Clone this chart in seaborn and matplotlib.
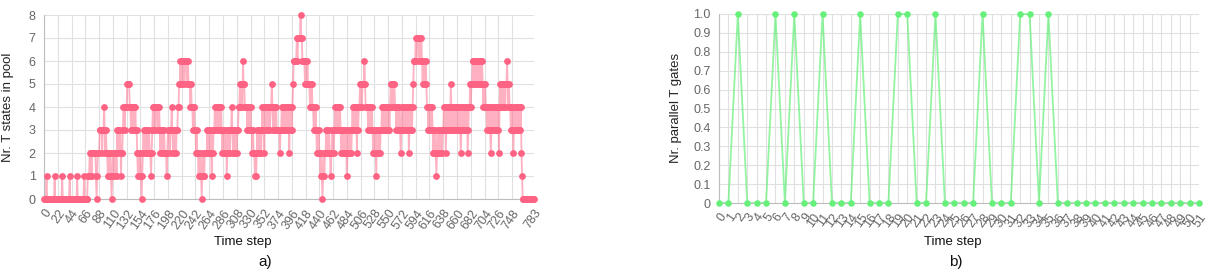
import numpy as np
import pandas as pd
import matplotlib
matplotlib.use("Agg")
import matplotlib.pyplot as plt
import seaborn as sns

# === DATA ===
# a) Nr. T states in pool per time step in blocks of 10 steps
pool_blocks = [
    "0000100000", "0000000100", "0000000001", "0000000000", "0100000000",
    "0001000000", "0000100000", "1112121222", "2221012223", "3332334323",
    "2212122101", "2122121323", "3231223443", "4445555443", "4343434332",
    "1221210123", "2323223232", "2123443434", "4433432323", "3232221233",
    "3233432323", "3233445565", "6566566656", "6555454434", "4332322121",
    "2101211222", "2323232213", "2334344343", "4434323232", "2312323233",
    "4323232323", "3445455465", "5444434343", "4332322121", "2323323234",
    "3424343434", "4344543434", "3433333233", "4343434343", "3424343456",
    "6666767777", "8776666565", "5655545454", "4343432323", "2212101212",
    "2323232212", "3232344343", "4344323232", "3232123232", "3234343434",
    "2434454545", "5565444434", "4343432323", "2132323233", "4343434343",
    "3434554545", "5443434343", "2343434343", "4342343434", "5666767776",
    "7767656565", "6544343434", "4323232123", "2323232334", "3423434343",
    "5434343434", "4343432343", "4343434234", "4545566565", "6566566565",
    "6545454434", "4343234343", "4343434245", "4545545455", "6545443434",
    "2343434343", "4342100000", "0000000000", "0000",
]
pool_states = [int(c) for c in "".join(pool_blocks)]
pool_ticks = list(range(0, 749, 22)) + [783]

# b) Nr. parallel T gates per time step
gate_steps = list(range(52))
parallel_gates = [0, 0, 1, 0, 0, 0, 1, 0, 1, 0,
                  0, 1, 0, 0, 0, 1, 0, 0, 0, 1,
                  1, 0, 0, 1, 0, 0, 0, 0, 1, 0,
                  0, 0, 1, 1, 0, 1, 0, 0, 0, 0,
                  0, 0, 0, 0, 0, 0, 0, 0, 0, 0,
                  0, 0]
gate_yticks = [0, 0.1, 0.2, 0.3, 0.4, 0.5, 0.6, 0.7, 0.8, 0.9, 1.0]
gate_ylabels = ["0", "0.1", "0.2", "0.3", "0.4", "0.5", "0.6", "0.7", "0.8", "0.9", "1.0"]

# === STYLE ===
sns.set_theme(style="whitegrid")
plt.rcParams['font.family'] = ['Liberation Sans', 'DejaVu Sans']

PINK = "#ff6384"
GREEN = "#66f07a"
GRID = "#e0e0e0"
TICK = "#666666"

W, H = 1216, 274
fig = plt.figure(figsize=(W / 100, H / 100), dpi=100)
fig.patch.set_facecolor("white")

ax1 = fig.add_axes([44 / W, (H - 199) / H, 490 / W, 184 / H])
ax2 = fig.add_axes([719 / W, (H - 203) / H, 480 / W, 189 / H])

pool_df = pd.DataFrame({"step": np.arange(len(pool_states)), "states": pool_states})
gate_df = pd.DataFrame({"step": gate_steps, "gates": parallel_gates})

# --- a) T states in pool ---
sns.lineplot(data=pool_df, x="step", y="states", color=PINK, alpha=0.5,
             linewidth=1.3, ax=ax1)
sns.scatterplot(data=pool_df, x="step", y="states", color=PINK, s=24,
                linewidth=0, ax=ax1, zorder=3)
ax1.set_xlim(0, 783)
ax1.set_ylim(0, 8)
ax1.set_xticks(pool_ticks)
ax1.set_xticklabels([str(t) for t in pool_ticks])
ax1.set_yticks(range(0, 9))

# --- b) parallel T gates ---
sns.lineplot(data=gate_df, x="step", y="gates", color=GREEN, alpha=0.7,
             linewidth=1.3, ax=ax2)
sns.scatterplot(data=gate_df, x="step", y="gates", color=GREEN, s=22,
                linewidth=0, ax=ax2, zorder=3)
ax2.set_xlim(0, 51)
ax2.set_ylim(0, 1)
ax2.set_xticks(gate_steps)
ax2.set_xticklabels([str(t) for t in gate_steps])
ax2.set_yticks(gate_yticks)
ax2.set_yticklabels(gate_ylabels)

for ax in (ax1, ax2):
    ax.set_facecolor("white")
    ax.grid(True, color=GRID, linewidth=0.8)
    ax.set_xlabel("")
    ax.set_ylabel("")
    for art in ax.lines + ax.collections:
        art.set_clip_on(False)
    for side in ("top", "right"):
        ax.spines[side].set_visible(False)
    for side in ("left", "bottom"):
        ax.spines[side].set_color("#bdbdbd")
        ax.spines[side].set_linewidth(0.8)
    ax.tick_params(axis="both", labelsize=9, colors=TICK, length=3,
                   width=0.8, pad=3)
    ax.tick_params(axis="both", color=GRID)
    for lab in ax.get_xticklabels():
        lab.set_rotation(55)
        lab.set_ha("right")
        lab.set_rotation_mode("anchor")

# --- axis titles and panel letters ---
fig.text(8 / W, 1 - 107 / H, "Nr. T states in pool", rotation=90,
         ha="center", va="center", fontsize=9.5, color="#222222")
fig.text(243 / W, 1 - 242 / H, "Time step", ha="center", va="center",
         fontsize=9.5, color="#111111")
fig.text(265 / W, 1 - 262 / H, "a)", ha="center", va="center",
         fontsize=11, color="#111111")

fig.text(676 / W, 1 - 108 / H, "Nr. parallel T gates", rotation=90,
         ha="center", va="center", fontsize=9.5, color="#222222")
fig.text(953 / W, 1 - 242 / H, "Time step", ha="center", va="center",
         fontsize=9.5, color="#111111")
fig.text(956 / W, 1 - 262 / H, "b)", ha="center", va="center",
         fontsize=11, color="#111111")

fig.savefig("out.png", dpi=100)
